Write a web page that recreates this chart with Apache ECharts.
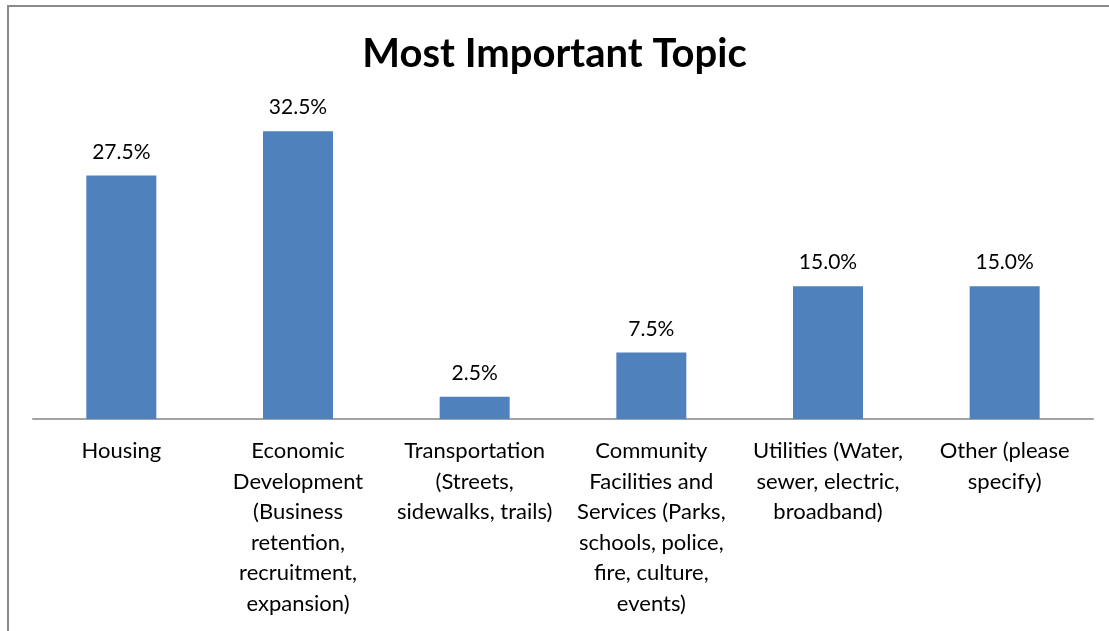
<!DOCTYPE html>
<html>
<head>
<meta charset="utf-8">
<title>Most Important Topic</title>
<script src="https://cdn.jsdelivr.net/npm/echarts@6/dist/echarts.min.js"></script>
<style>
  html, body { margin: 0; padding: 0; background: #fff; }
  #chart { width: 1109px; height: 631px; }
</style>
</head>
<body>
<div id="chart"></div>
<script>
// Survey topics (axis labels, pre-wrapped)
const categories = [
  'Housing',
  'Economic\nDevelopment\n(Business\nretention,\nrecruitment,\nexpansion)',
  'Transportation\n(Streets,\nsidewalks, trails)',
  'Community\nFacilities and\nServices (Parks,\nschools, police,\nfire, culture,\nevents)',
  'Utilities (Water,\nsewer, electric,\nbroadband)',
  'Other (please\nspecify)'
];

// Share of respondents choosing each topic, in percent
const shares = [27.5, 32.5, 2.5, 7.5, 15.0, 15.0];

const FONT = 'Lato, "Open Sans", sans-serif';

const chart = echarts.init(document.getElementById('chart'), null, { renderer: 'canvas' });

chart.setOption({
  backgroundColor: '#ffffff',
  animation: false,
  title: {
    text: 'Most Important Topic',
    left: 'center',
    top: 29,
    textStyle: {
      fontFamily: FONT,
      fontWeight: 'bold',
      fontSize: 40,
      color: '#000000'
    }
  },
  graphic: [{
    type: 'rect',
    silent: true,
    shape: { x: 8, y: 6, width: 1200, height: 700 },
    style: { fill: 'none', stroke: '#8a8a8a', lineWidth: 2 }
  }],
  grid: { left: 33, right: 16, top: 109, bottom: 212 },
  xAxis: {
    type: 'category',
    data: categories,
    axisLine: { lineStyle: { color: '#a3a3a3', width: 2 } },
    axisTick: { show: false },
    axisLabel: {
      interval: 0,
      margin: 17,
      fontFamily: FONT,
      fontSize: 22,
      lineHeight: 30.5,
      color: '#000000',
      align: 'center'
    }
  },
  yAxis: {
    type: 'value',
    min: 0,
    max: 35,
    show: false,
    splitLine: { show: false }
  },
  series: [{
    type: 'bar',
    data: shares,
    barWidth: 70,
    itemStyle: { color: '#4f81bd' },
    label: {
      show: true,
      position: 'top',
      distance: 13,
      fontFamily: FONT,
      fontSize: 21,
      color: '#000000',
      formatter: p => p.value.toFixed(1) + '%'
    }
  }]
});
</script>
</body>
</html>
